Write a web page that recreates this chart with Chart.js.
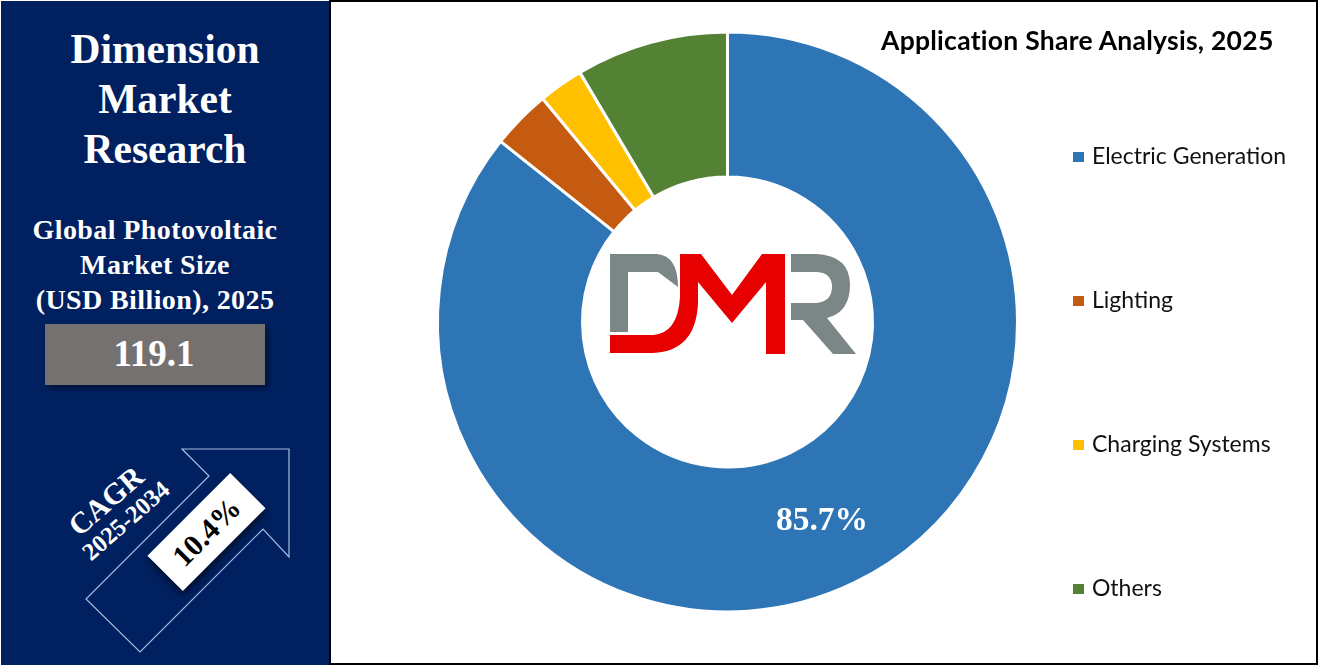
<!DOCTYPE html>
<html><head><meta charset="utf-8">
<script src="https://cdn.jsdelivr.net/npm/chart.js@4"></script>
<style>
html,body{margin:0;padding:0;background:#fff;width:1318px;height:665px;overflow:hidden}
#c{position:absolute;left:0;top:0}
.frame{position:absolute;left:329px;top:0;width:985px;height:661px;border:2px solid #000;box-sizing:content-box;pointer-events:none}
.panel{position:absolute;left:1px;top:1px;width:328px;height:664px;background:#002060}
.t{position:absolute;white-space:nowrap;font-family:"Liberation Serif",serif;font-weight:bold;color:#fff;transform:translate(-50%,0);line-height:1}
.box{position:absolute;left:45px;top:324px;width:220px;height:61px;background:#767171;box-shadow:3px 3px 6px rgba(0,0,0,.45)}
.rect{position:absolute;left:148px;top:507px;width:117px;height:50px;background:#fff;transform:rotate(-45deg);box-shadow:-3px 4px 6px rgba(0,0,0,.5);display:flex;align-items:center;justify-content:center;color:#000;font:bold 30px "Liberation Serif",serif}
.rot{position:absolute;white-space:nowrap;font-family:"Liberation Serif",serif;font-weight:bold;color:#fff;transform:translate(-50%,-50%) rotate(-41deg);line-height:1}
#title{position:absolute;left:881px;top:25px;font:bold 26.5px Lato,sans-serif;letter-spacing:.26px;color:#000;white-space:nowrap;line-height:30px}
.lg{position:absolute;left:1073px;height:24px;font:23px Lato,sans-serif;color:#111;white-space:nowrap;line-height:24px}
.lg i{position:absolute;left:0;top:7.5px;width:11px;height:10px}
.lg span{position:absolute;left:19px;top:-1px}
svg{position:absolute;left:0;top:0}
</style></head><body>
<canvas id="c" width="1318" height="665"></canvas>
<div class="frame"></div>
<div class="panel"></div>
<div class="t" style="left:165px;top:29px;font-size:41.5px">Dimension</div>
<div class="t" style="left:165px;top:79px;font-size:41.5px">Market</div>
<div class="t" style="left:165px;top:129px;font-size:41.5px">Research</div>
<div class="t" style="left:155px;top:216px;font-size:28px;letter-spacing:.4px">Global Photovoltaic</div>
<div class="t" style="left:155px;top:251px;font-size:28px;letter-spacing:.4px">Market Size</div>
<div class="t" style="left:155px;top:286px;font-size:28px;letter-spacing:.4px">(USD Billion), 2025</div>
<div class="box"></div>
<div class="t" style="left:154px;top:335px;font-size:37px">119.1</div>
<svg width="1318" height="665" viewBox="0 0 1318 665">
  <polygon points="182,449 289,449 289,557 263,529 140,652 86,599 209,476" fill="none" stroke="#a9bce0" stroke-width="1.2"/>
  <path fill="#7a8786" d="M610 254H657Q678 256 678 287L658 272H628V332H610Z"/>
  <path fill="#7a8786" d="M791 254H817Q850 256 850 285Q850 312 827 318L856 354H833L803 320H791V303H817Q832 301 832 287Q832 273 817 272H791Z"/>
  <path fill="#e60000" d="M610 335H653Q678 333 680 297V254H701L732 295L762 254H785V354H766V282L732 323L698 282V303Q696 351 653 353H610Z"/>
</svg>
<div class="rect">10.4%</div>
<div class="rot" style="left:106px;top:501px;font-size:30px">CAGR</div>
<div class="rot" style="left:126px;top:521px;font-size:24.5px">2025-2034</div>
<div id="title">Application Share Analysis, 2025</div>
<div id="legend"></div>
<script>
const categories = ["Electric Generation", "Lighting", "Charging Systems", "Others"];
const shares = [85.7, 3.3, 2.5, 8.5];
const colors = ["#2E75B6", "#C55A11", "#FFC000", "#548235"];
const labelledSlices = [0];

const legendY = [144, 288, 432, 576];
const legend = document.getElementById("legend");
categories.forEach((name, i) => {
  const d = document.createElement("div");
  d.className = "lg";
  d.style.top = legendY[i] + "px";
  d.innerHTML = '<i style="background:' + colors[i] + '"></i><span>' + name + '</span>';
  legend.appendChild(d);
});

const sliceLabels = {
  id: "sliceLabels",
  afterDatasetsDraw(chart) {
    const ctx = chart.ctx, arcs = chart.getDatasetMeta(0).data;
    ctx.save();
    ctx.fillStyle = "#fff";
    ctx.font = 'bold 33.5px "Liberation Serif", serif';
    ctx.textAlign = "center";
    ctx.textBaseline = "middle";
    labelledSlices.forEach(i => {
      const p = arcs[i].tooltipPosition();
      ctx.fillText(shares[i] + "%", p.x, p.y + 3);
    });
    ctx.restore();
  }
};

new Chart(document.getElementById("c"), {
  type: "doughnut",
  data: { labels: categories, datasets: [{ data: shares, backgroundColor: colors, borderColor: "#fff", borderWidth: 3 }] },
  options: {
    responsive: false,
    animation: false,
    devicePixelRatio: 1,
    cutout: "50%",
    layout: { padding: { left: 436, right: 299, top: 30.5, bottom: 51.5 } },
    plugins: { legend: { display: false }, tooltip: { enabled: false }, title: { display: false } }
  },
  plugins: [sliceLabels]
});
</script>
</body></html>
